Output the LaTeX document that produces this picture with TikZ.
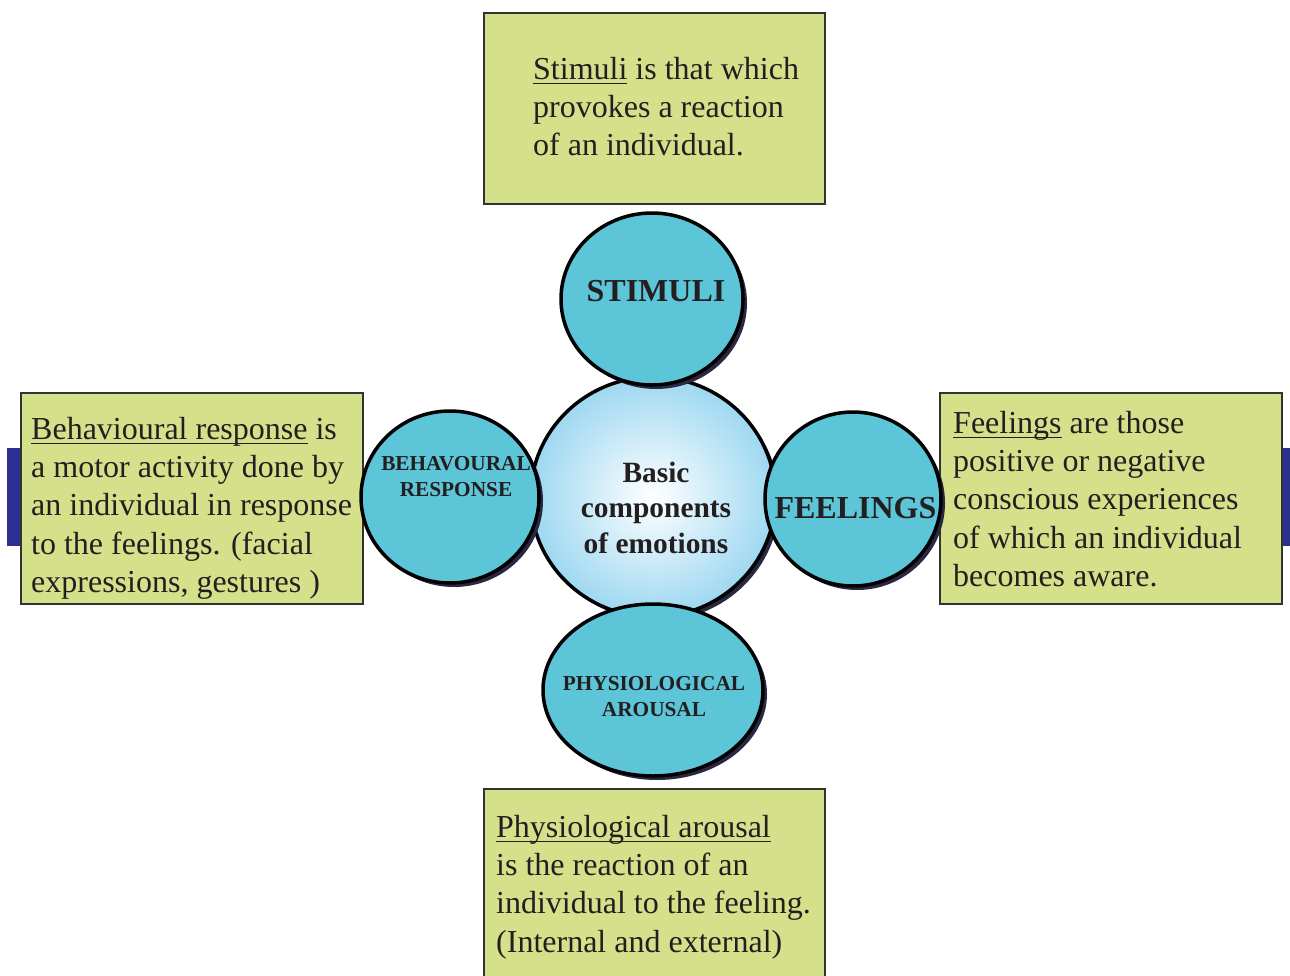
\documentclass[tikz,border=0pt]{standalone}
\usepackage{fontspec}
\setmainfont{Liberation Serif}
\usetikzlibrary{shapes.geometric,shadows}
\definecolor{boxfill}{HTML}{D4E18A}
\definecolor{circfill}{HTML}{5CC5D8}
\definecolor{barblue}{HTML}{2B3091}
\definecolor{shadowc}{HTML}{2A2742}
\definecolor{centeredge}{HTML}{9ED8F1}
\definecolor{inkc}{HTML}{231F20}
\newcommand\myul[1]{\setbox0\hbox{#1}\rlap{\rule[-5pt]{\wd0}{1.7pt}}\box0\relax}
\begin{document}
\begin{tikzpicture}[x=1pt,y=-1pt,
  infobox/.style={draw=black!80, line width=1.6pt, fill=boxfill, inner sep=0, anchor=north west},
  comp/.style={ellipse, draw=black, line width=3.5pt, fill=circfill, inner sep=0,
    drop shadow={shadow xshift=4pt, shadow yshift=-4pt, fill=shadowc, opacity=1}},
  centre/.style={ellipse, draw=black, line width=3.5pt, inner sep=0,
    shading=radial, inner color=white, outer color=centeredge,
    drop shadow={shadow xshift=4pt, shadow yshift=-4pt, fill=shadowc, opacity=1}},
  boxtext/.style={anchor=north west, inner sep=0, align=left, text=inkc,
    font=\fontsize{32}{38.3}\selectfont},
  bigcap/.style={anchor=base, inner sep=0, text=inkc, font=\bfseries\fontsize{32}{32}\selectfont},
  smallcap/.style={anchor=north, inner sep=0, align=center, text=inkc, font=\bfseries\fontsize{21.3}{25.5}\selectfont},
  centretext/.style={anchor=north, inner sep=0, align=center, text=inkc, font=\bfseries\fontsize{29.4}{35.5}\selectfont}
]
\useasboundingbox (0,0) rectangle (1290,975);
\fill[white] (0,0) rectangle (1290,975);

% side bars
\fill[barblue] (7,448) rectangle (22,546);
\fill[barblue] (1278,448) rectangle (1292,546);

% boxes
\node[infobox, minimum width=341pt, minimum height=191pt] (tbox) at (483,12) {};
\node[infobox, minimum width=342pt, minimum height=211pt] (lbox) at (20,392) {};
\node[infobox, minimum width=342pt, minimum height=211pt] (rbox) at (939,392) {};
\node[infobox, minimum width=341pt, minimum height=220pt] (bbox) at (483,788) {};

% box texts
\node[boxtext] (ttext) at (533,52.2) {\strut\myul{Stimuli} is that which\\provokes a reaction\\of an individual.};
\node[boxtext] (ltext) at (31,412.2) {\strut\myul{Behavioural response} is\\a motor activity done by\\an individual in response\\to the feelings. (facial\\expressions, gestures )};
\node[boxtext] (rtext) at (953,406.2) {\strut\myul{Feelings} are those\\positive or negative\\conscious experiences\\of which an individual\\becomes aware.};
\node[boxtext] (btext) at (496,810.2) {\strut\myul{Physiological arousal}\\is the reaction of an\\individual to the feeling.\\(Internal and external)};

% circles
\node[centre, minimum width=245pt, minimum height=240pt] (core) at (653,497) {};
\node[comp, minimum width=182pt, minimum height=172pt] (stim) at (652,299) {};
\node[comp, minimum width=178pt, minimum height=172pt] (beh) at (450,497) {};
\node[comp, minimum width=176pt, minimum height=174pt] (feel) at (853,499) {};
\node[comp, minimum width=220pt, minimum height=172pt] (phys) at (653,690) {};

% circle texts
\node[bigcap] (stimt) at (656,301) {STIMULI};
\node[bigcap] (feelt) at (855.5,518) {FEELINGS};
\node[smallcap] (beht) at (456,452.8) {\strut BEHAVOURAL\\RESPONSE};
\node[smallcap] (physt) at (654,672.5) {\strut PHYSIOLOGICAL\\AROUSAL};
\node[centretext] (coret) at (656,457.2) {\strut Basic\\components\\of emotions};
\end{tikzpicture}
\end{document}
